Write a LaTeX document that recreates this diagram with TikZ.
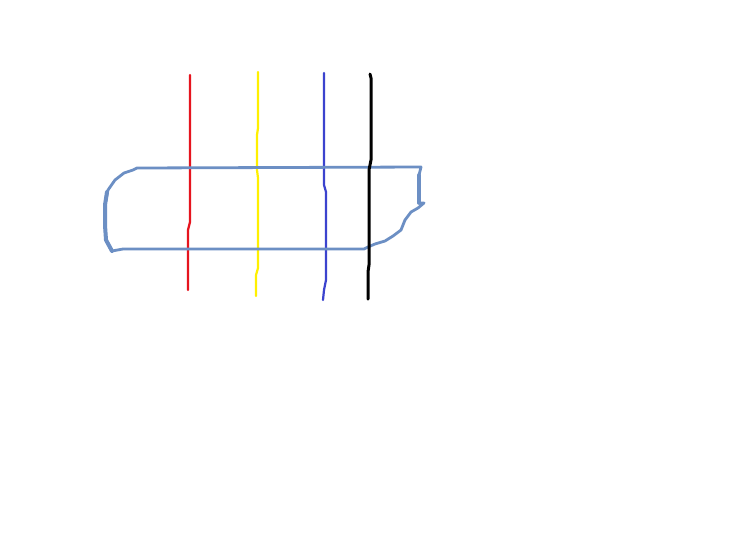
\documentclass[tikz,border=0pt]{standalone}
\begin{document}
\begin{tikzpicture}[x=1pt,y=-1pt,line join=round,line cap=round,
  stroke/.style={line width=2.2pt}]
\definecolor{outl}{RGB}{108,143,196}
\definecolor{bl}{RGB}{59,67,206}
\definecolor{rd}{RGB}{230,20,30}
\definecolor{yl}{RGB}{255,240,0}
\useasboundingbox[fill=white] (0,0) rectangle (734,550);
\draw[stroke,rd] (190,75) -- (190,222) -- (188,230) -- (188,290);
\draw[stroke,yl] (258,72) -- (258,128) -- (257,135) -- (257,170) -- (258,178) -- (258,268) -- (256,275) -- (256,296);
\draw[stroke,bl] (324,73) -- (324,185) -- (326,192) -- (326,280) -- (324,290) -- (323,300);
\draw[line width=2.8pt,outl] (137,168) -- (421,167) -- (419,175) -- (419,203) -- (424,203) -- (418,208) -- (411,212) -- (405,220) -- (401,230) -- (393,236) -- (385,241) -- (375,244) -- (368,247) -- (364,249) -- (123,249) -- (112,251) -- (106,240) -- (105,225) -- (105,205) -- (108,190) -- (115,180) -- (124,173) -- (133,170) -- cycle;
\draw[line width=4pt,outl] (112,251) -- (106,240) -- (105,225) -- (105,205) -- (107,192);
\draw[line width=3.6pt,outl] (419,175) -- (419,203);
\draw[line width=3pt,black] (370,74) -- (371,78) -- (371,160) -- (369,170) -- (369,265) -- (368,272) -- (368,299);
\end{tikzpicture}
\end{document}
